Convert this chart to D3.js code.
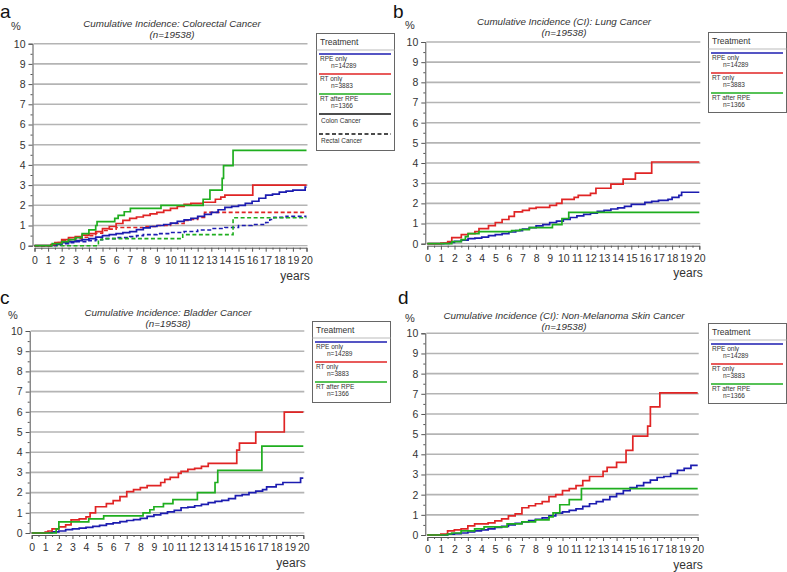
<!DOCTYPE html>
<html><head><meta charset="utf-8">
<script src="https://cdn.jsdelivr.net/npm/d3@7"></script>
<style>
body{margin:0;background:#fff;}
svg{display:block;font-family:Arial,"Liberation Sans",sans-serif;}
</style></head>
<body><svg id="chart" width="787" height="572"></svg>
<script>
// ---------- data ----------
const xTicks = d3.range(0, 21, 1);
const yTicks = d3.range(0, 11, 1);
const panelLetters = ["a", "b", "c", "d"];
const panelTitles = [
  "Cumulative Incidence: Colorectal Cancer",
  "Cumulative Incidence (CI): Lung Cancer",
  "Cumulative Incidence: Bladder Cancer",
  "Cumulative Incidence (CI): Non-Melanoma Skin Cancer"
];
const subtitle = "(n=19538)";
const seriesNames = ["RPE only", "RT only", "RT after RPE"];
const seriesN = ["n=14289", "n=3883", "n=1366"];
const seriesColors = ["#1c1cb0", "#e02424", "#1fae1f"];
const extraLegend = ["Colon  Cancer", "Rectal Cancer"];

// panel a: colorectal, solid = colon, dashed = rectal
const colonRPE = [[0,0],[1.2,0.02],[1.6,0.08],[2,0.15],[2.5,0.2],[3,0.25],[3.5,0.3],[4,0.35],[4.5,0.42],[5,0.5],[5.5,0.55],[6,0.6],[6.5,0.65],[7,0.7],[7.5,0.8],[8,0.88],[8.5,0.95],[9,1.0],[9.5,1.05],[10,1.12],[10.5,1.2],[11,1.28],[11.5,1.35],[12,1.45],[12.5,1.55],[13,1.65],[13.5,1.78],[14,1.9],[14.5,1.95],[15,2.0],[15.5,2.1],[16,2.2],[16.5,2.35],[17,2.5],[17.5,2.55],[18,2.65],[18.5,2.7],[19,2.75],[19.9,2.9]];
const colonRT = [[0,0],[1.2,0.05],[1.5,0.15],[2,0.3],[2.5,0.4],[3,0.45],[3.5,0.52],[4,0.6],[4.5,0.7],[5,0.85],[5.5,0.95],[6,1.1],[6.5,1.25],[7,1.35],[7.5,1.42],[8,1.5],[8.5,1.58],[9,1.65],[9.5,1.75],[10,1.85],[10.5,1.95],[11,2.05],[11.5,2.1],[12.4,2.15],[13.3,2.3],[13.7,2.4],[14,2.5],[16.05,3.0]];
const colonRTafter = [[0,0],[1.3,0.1],[2,0.2],[2.5,0.3],[3,0.4],[3.5,0.6],[4,0.78],[4.5,1.0],[4.6,1.19],[5.9,1.35],[6.15,1.5],[6.6,1.68],[7.05,1.85],[9.3,2.0],[12.4,2.3],[12.9,2.75],[13.8,3.33],[13.9,3.96],[14.6,4.72]];
const rectalRPE = [[0,0],[1.3,0.03],[2,0.1],[2.5,0.15],[3,0.2],[4,0.25],[4.5,0.3],[5,0.35],[6,0.4],[7,0.45],[7.5,0.5],[8,0.55],[9,0.6],[10,0.65],[11,0.7],[12,0.78],[13,0.85],[14,0.9],[15,1.0],[16,1.05],[17,1.15],[17.3,1.3],[17.6,1.4],[18.5,1.45]];
const rectalRT = [[0,0],[1.2,0.05],[1.6,0.15],[2,0.25],[2.5,0.3],[3,0.35],[3.5,0.42],[4,0.5],[4.5,0.62],[5,0.75],[5.5,0.82],[6,0.9],[8,0.95],[9,1.0],[10,1.1],[11,1.25],[11.5,1.3],[12,1.4],[12.5,1.65]];
const rectalRTafter = [[0,0],[4.7,0.3],[5.0,0.35],[10.9,0.55],[14.6,1.38]];

// panel b: lung
const lungRPE = [[0,0],[1.2,0.02],[1.6,0.06],[2,0.12],[2.5,0.18],[3,0.25],[3.5,0.28],[4,0.33],[4.5,0.4],[5,0.45],[5.5,0.5],[6,0.58],[6.5,0.65],[7,0.72],[7.5,0.8],[8,0.88],[8.5,0.95],[9,1.05],[9.5,1.12],[10,1.2],[10.5,1.3],[11,1.38],[11.5,1.45],[12,1.52],[12.5,1.6],[13,1.65],[13.5,1.72],[14,1.78],[14.5,1.85],[15,1.95],[16,2.05],[16.5,2.1],[17,2.15],[17.7,2.2],[18,2.3],[18.5,2.4],[18.7,2.55]];
const lungRT = [[0,0],[1.0,0.03],[1.5,0.1],[1.8,0.3],[2.5,0.45],[3,0.5],[3.5,0.6],[3.8,0.75],[4.5,0.9],[5,1.05],[5.5,1.2],[6,1.35],[6.4,1.58],[7,1.65],[7.5,1.75],[8,1.8],[9,1.9],[9.5,2.0],[9.9,2.2],[10.8,2.3],[11.1,2.4],[12,2.5],[12.4,2.75],[13.5,2.95],[14.4,3.2],[15.3,3.5],[16.5,4.05]];
const lungRTafter = [[0,0],[1.8,0.1],[2.5,0.2],[2.8,0.35],[3.0,0.5],[3.8,0.6],[6.2,0.65],[6.8,0.7],[7.5,0.8],[9.2,0.95],[9.9,1.25],[10.4,1.55]];

// panel c: bladder
const bladderRPE = [[0,0],[1.0,0.02],[1.5,0.06],[2,0.1],[2.5,0.17],[3,0.2],[3.5,0.24],[4,0.28],[4.5,0.33],[5,0.38],[5.5,0.45],[6,0.5],[6.5,0.56],[7,0.62],[7.5,0.66],[8,0.72],[8.5,0.82],[9,0.9],[9.5,0.97],[10,1.05],[10.5,1.12],[11,1.25],[11.5,1.28],[12,1.35],[12.5,1.42],[13,1.5],[13.5,1.57],[14,1.62],[14.5,1.7],[15,1.85],[15.5,1.9],[16,2.0],[16.5,2.07],[17,2.15],[17.3,2.28],[18,2.4],[18.5,2.5],[19.8,2.72]];
const bladderRT = [[0,0],[1.0,0.05],[1.2,0.1],[1.5,0.2],[2,0.3],[2.5,0.4],[2.9,0.65],[3.5,0.7],[4,0.8],[4.3,1.0],[4.7,1.3],[5.5,1.45],[6,1.6],[6.5,1.8],[7,2.05],[7.5,2.15],[8,2.25],[8.5,2.35],[9.5,2.5],[9.8,2.65],[10.2,2.75],[10.8,2.95],[11,3.05],[11.5,3.15],[12,3.2],[12.5,3.3],[13,3.45],[15.1,4.1],[15.3,4.45],[16.5,5.0],[18.6,5.98]];
const bladderRTafter = [[0,0],[1.8,0.2],[2.0,0.55],[4.2,0.7],[5.3,0.85],[8.2,1.0],[8.7,1.15],[9.0,1.3],[9.7,1.45],[10.4,1.65],[12.2,2.0],[13.5,2.5],[13.7,3.1],[16.95,4.3]];

// panel d: non-melanoma skin
const skinRPE = [[0,0],[1.0,0.01],[1.5,0.04],[2,0.07],[2.5,0.1],[3,0.15],[3.5,0.2],[4,0.25],[4.5,0.3],[5,0.38],[5.5,0.43],[6,0.5],[6.5,0.58],[7,0.65],[7.5,0.72],[8,0.78],[8.5,0.85],[9,0.95],[9.5,1.08],[10,1.15],[10.5,1.22],[11,1.3],[11.5,1.42],[12,1.55],[12.5,1.65],[13,1.75],[13.5,1.9],[14,2.05],[14.5,2.2],[15,2.35],[15.5,2.45],[16,2.6],[16.5,2.72],[17,2.85],[17.5,2.9],[18,3.05],[18.5,3.2],[19,3.3],[19.5,3.45]];
const skinRT = [[0,0],[1.0,0.05],[1.5,0.2],[2,0.25],[2.5,0.3],[3,0.45],[3.5,0.55],[4.5,0.6],[5,0.7],[5.5,0.8],[6,0.95],[6.5,1.05],[7,1.35],[7.5,1.45],[8,1.55],[8.5,1.65],[9,1.9],[9.5,2.0],[10,2.2],[10.5,2.3],[11,2.45],[11.5,2.7],[12,2.9],[13,3.15],[13.3,3.35],[14,3.6],[14.7,4.2],[15.2,4.9],[16.3,5.4],[16.5,6.35],[17.2,7.05]];
const skinRTafter = [[0,0],[1.5,0.05],[1.8,0.1],[2.5,0.2],[3.5,0.3],[4.2,0.4],[5.9,0.55],[7,0.65],[8,0.75],[9,0.9],[9.3,1.1],[9.8,1.5],[10.5,1.75],[11.4,2.3]];

// ---------- layout ----------
const panels = [
  {x0:34.5, x20:306.5, y0:245.7, y10:43.7, letter:[0,18], titleX:172, titleY:27, pctX:16, pctY:30, yearsX:295, yearsY:280,
   legend:{x:316, y:33, w:78, h:117}, series:[colonRPE, colonRT, colonRTafter], dashed:[rectalRPE, rectalRT, rectalRTafter]},
  {x0:427.3, x20:699.3, y0:243.7, y10:42, letter:[393,18], titleX:564, titleY:25, pctX:410, pctY:29, yearsX:688, yearsY:277,
   legend:{x:708, y:32, w:78, h:80}, series:[lungRPE, lungRT, lungRTafter]},
  {x0:31.7, x20:303.3, y0:533, y10:331, letter:[0,304], titleX:168, titleY:316, pctX:13, pctY:319, yearsX:291, yearsY:567,
   legend:{x:312, y:321, w:78, h:81}, series:[bladderRPE, bladderRT, bladderRTafter]},
  {x0:427.3, x20:697.7, y0:535, y10:333.3, letter:[398,304], titleX:564, titleY:319, pctX:410, pctY:322, yearsX:688, yearsY:569,
   legend:{x:708, y:323, w:78, h:80}, series:[skinRPE, skinRT, skinRTafter]}
];

const svg = d3.select("#chart");
const axisColor = "#555";
const textColor = "#333";

panels.forEach((p, i) => {
  const g = svg.append("g");
  const x = d3.scaleLinear().domain([0, 20]).range([p.x0, p.x20]);
  const y = d3.scaleLinear().domain([0, 10]).range([p.y0, p.y10]);

  // gridlines
  g.append("g").selectAll("line").data(yTicks.slice(1)).join("line")
    .attr("x1", p.x0 - 1).attr("x2", p.x20 + 1)
    .attr("y1", d => y(d)).attr("y2", d => y(d))
    .attr("stroke", "#b4b4b4").attr("stroke-width", 1.6);

  // y axis
  g.append("g").attr("transform", `translate(${p.x0 - 2},0)`)
    .call(d3.axisLeft(y).tickValues(yTicks).tickSize(4).tickPadding(3).tickFormat(d3.format("d")));
  g.append("g").attr("transform", `translate(${p.x0 - 2},0)`)
    .call(d3.axisLeft(y).tickValues(d3.range(0.5, 10, 1)).tickSize(2).tickFormat(""))
    .call(s => s.select(".domain").remove());
  // x axis
  g.append("g").attr("transform", `translate(0,${p.y0 + 2})`)
    .call(d3.axisBottom(x).tickValues(xTicks).tickSize(4).tickPadding(5).tickFormat(d3.format("d")));
  g.append("g").attr("transform", `translate(0,${p.y0 + 2})`)
    .call(d3.axisBottom(x).tickValues(d3.range(0.5, 20, 1)).tickSize(2).tickFormat(""))
    .call(s => s.select(".domain").remove());
  g.selectAll(".domain").attr("stroke", axisColor);
  g.selectAll(".tick line").attr("stroke", axisColor);
  g.selectAll(".tick text").attr("fill", textColor).attr("font-size", 10.5)
    .attr("font-family", "Arial, 'Liberation Sans', sans-serif");
  // baseline gridline at 0
  g.append("line").attr("x1", p.x0 - 1).attr("x2", p.x20 + 1).attr("y1", y(0)).attr("y2", y(0))
    .attr("stroke", "#b4b4b4").attr("stroke-width", 1.2);

  // curves
  const line = d3.line().x(d => x(d[0])).y(d => y(d[1])).curve(d3.curveStepAfter);
  const ext = s => s.concat([[20, s[s.length - 1][1]]]);
  if (p.dashed) {
    p.dashed.forEach((s, k) => {
      g.append("path").attr("d", line(ext(s))).attr("fill", "none")
        .attr("stroke", seriesColors[k]).attr("stroke-width", 1.6).attr("stroke-dasharray", "4,2.5");
    });
  }
  p.series.forEach((s, k) => {
    g.append("path").attr("d", line(ext(s))).attr("fill", "none")
      .attr("stroke", seriesColors[k]).attr("stroke-width", 1.7);
  });

  // texts
  g.append("text").attr("x", p.letter[0]).attr("y", p.letter[1]).text(panelLetters[i])
    .attr("font-size", 19).attr("fill", "#111");
  g.append("text").attr("x", p.titleX).attr("y", p.titleY).attr("text-anchor", "middle")
    .attr("font-style", "italic").attr("font-size", 9.8).attr("fill", textColor).text(panelTitles[i]);
  g.append("text").attr("x", p.titleX).attr("y", p.titleY + 11).attr("text-anchor", "middle")
    .attr("font-style", "italic").attr("font-size", 9.8).attr("fill", textColor).text(subtitle);
  g.append("text").attr("x", p.pctX).attr("y", p.pctY).attr("text-anchor", "middle")
    .attr("font-size", 11).attr("fill", textColor).text("%");
  g.append("text").attr("x", p.yearsX).attr("y", p.yearsY).attr("text-anchor", "middle")
    .attr("font-size", 12).attr("fill", textColor).text("years");

  // legend
  const L = p.legend;
  const lg = g.append("g");
  lg.append("rect").attr("x", L.x + 0.5).attr("y", L.y + 0.5).attr("width", L.w).attr("height", L.h)
    .attr("fill", "#fff").attr("stroke", "#666").attr("stroke-width", 1);
  lg.append("line").attr("x1", L.x + 0.5).attr("x2", L.x + L.w + 0.5).attr("y1", L.y + 17).attr("y2", L.y + 17)
    .attr("stroke", "#bbb").attr("stroke-width", 1);
  lg.append("text").attr("x", L.x + 4).attr("y", L.y + 12).attr("font-size", 8.5).attr("fill", textColor).text("Treatment");
  seriesNames.forEach((nm, k) => {
    const ly = L.y + 21 + k * 20;
    lg.append("line").attr("x1", L.x + 3).attr("x2", L.x + L.w - 3).attr("y1", ly).attr("y2", ly)
      .attr("stroke", seriesColors[k]).attr("stroke-width", 1.6);
    lg.append("text").attr("x", L.x + 4).attr("y", ly + 7).attr("font-size", 6.5).attr("fill", textColor).text(nm);
    lg.append("text").attr("x", L.x + 15).attr("y", ly + 13.5).attr("font-size", 6.5).attr("fill", textColor).text(seriesN[k]);
  });
  if (p.dashed) {
    extraLegend.forEach((nm, k) => {
      const ly = L.y + 81 + k * 20;
      lg.append("line").attr("x1", L.x + 3).attr("x2", L.x + L.w - 3).attr("y1", ly).attr("y2", ly)
        .attr("stroke", "#111").attr("stroke-width", 1.6).attr("stroke-dasharray", k ? "4,2.5" : null);
      lg.append("text").attr("x", L.x + 5).attr("y", ly + 8.5).attr("font-size", 6.5).attr("fill", textColor).text(nm);
    });
  }
});
</script></body></html>
